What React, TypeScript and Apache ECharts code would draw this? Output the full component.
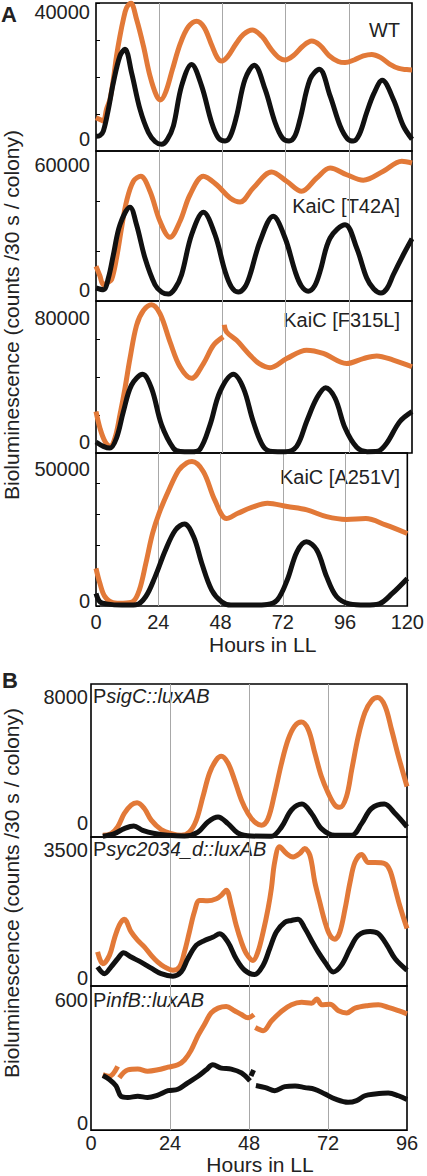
import React, { useEffect, useRef } from "react";
import * as echarts from "echarts";

// ---------- data (hours in LL, counts /30 s / colony) ----------
const hoursTicksA = [0, 24, 48, 72, 96, 120];
const hoursTicksB = [0, 24, 48, 72, 96];

const wtOrange = [[0,9000],[1.5,8500],[2.8,8100],[4,11300],[5.3,14000],[6.6,19400],[7.8,25700],[9.1,31100],[10.4,35600],[11.6,38700],[13.2,40000],[15.4,35600],[18,28400],[20.5,20300],[23,14900],[24.5,13800],[26.5,16000],[29,22000],[32,29000],[35,33500],[38.2,35100],[41,33500],[44,28500],[46,25300],[47.7,24300],[50,25500],[53,28800],[56,31500],[59.4,32700],[63,31000],[66.5,27500],[69.5,25200],[71.8,24600],[75,25800],[78.5,28300],[81.9,29700],[85,28600],[88.5,25800],[92,24200],[94.6,23900],[98,24600],[101.5,25700],[104.7,26100],[108,25300],[111.5,23500],[115,22300],[118,22000],[120,21900]];
const wtBlack = [[0,4000],[1.5,4200],[2.8,5400],[4.7,11300],[6.6,18500],[9.1,25700],[11,27500],[13.5,21200],[16.7,11300],[19.9,5000],[22.5,2500],[24.9,1800],[27,3000],[29.4,6800],[32.5,17600],[36.3,23400],[40.1,17600],[43.9,7700],[46.5,3500],[49,2700],[51,4000],[53.4,9500],[56.6,19400],[60.1,23200],[64.2,16700],[68,7700],[70.8,3500],[73.3,2700],[75.5,4000],[77.5,8600],[81.3,19400],[84.8,22100],[88.9,14900],[92.7,6800],[95.5,3300],[97.7,2700],[100,4500],[102.8,10400],[105.5,15500],[108.7,19100],[112.9,14000],[116.7,6800],[120,3200]];

const t42aOrange = [[0,13900],[1.5,10000],[2.8,6500],[4.5,7500],[5.9,8500],[7.8,17200],[9.7,29200],[11.6,39900],[14.2,47900],[17,49900],[20.5,43900],[24.3,31900],[28.1,25500],[31.9,31900],[35.7,42500],[40.8,49900],[45.8,46500],[50.9,41200],[54.7,39600],[59.7,45200],[66.7,51600],[72.4,47900],[78.1,43900],[83.8,49200],[88.9,53200],[95.2,50500],[101.5,48300],[109.1,51900],[116.1,55900],[120,55200]];
const t42aBlack = [[0,5200],[2.8,4500],[4.7,9200],[6.6,18500],[9.1,30500],[12.9,37500],[15.4,30500],[18.6,17200],[22.4,6500],[25,3500],[27.5,2800],[30,5000],[32.5,10500],[36.3,26500],[40.8,35500],[45.2,26500],[49,11900],[51.5,5500],[54,3600],[56.5,5500],[58.5,10500],[62.3,23900],[67.3,33900],[71.8,25200],[75.6,11900],[78,6000],[80.6,3900],[83,6000],[85.1,11900],[88.9,25200],[94.6,30500],[99,21200],[102.8,9200],[105.5,4800],[108.2,3200],[110.5,5000],[112.9,10500],[116.7,18500],[120,24900]];

const f315lOrange = [[0,21800],[1.5,13100],[3.4,6100],[5.3,3500],[7.2,7900],[9.1,20100],[11,34000],[12.9,49700],[15.4,67200],[18,75000],[21.1,78000],[24.3,73300],[28.1,58500],[31.9,45400],[36.3,39300],[40.8,47100],[44.6,56700],[48.3,61100],[48.5,"-"],[48.7,67500],[49.6,63700],[53.4,59300],[58.5,51500],[62,47000],[66.1,44900],[72.4,49700],[80,54100],[86.3,52400],[95.2,47100],[101.5,49700],[106.6,51100],[112.9,48900],[120,45400]];
const f315lBlack = [[0,5800],[2.8,3500],[5.3,2600],[7.8,7900],[10.4,21800],[13.5,35800],[17.7,41400],[21.1,34000],[24.9,14800],[29.4,2500],[32,800],[36,600],[39.5,2000],[43.3,14800],[47.1,32300],[52.2,41400],[56,34000],[59.7,16600],[63.5,3500],[67,800],[72,700],[76.2,3500],[80,16600],[83.8,28800],[87.2,34400],[90.8,28800],[94.6,13100],[99,3000],[103,700],[107,900],[110.3,5000],[115.4,16600],[120,21800]];

const a251vOrange = [[0,12300],[1.5,7400],[3.4,3100],[6.6,1100],[10.4,900],[14.2,1400],[16.7,5200],[19.2,13900],[21.8,23700],[24.3,30300],[28.1,37900],[31.9,44400],[35,46800],[37,47200],[41.4,43900],[45.8,34600],[50.3,28600],[54.7,30300],[60,32200],[66.1,33600],[73.7,32500],[81.3,31400],[88.9,29200],[96.5,28300],[104,28600],[111.6,26500],[120,23700]];
const a251vBlack = [[0,4100],[1.5,1400],[4,700],[10,300],[15.4,400],[19.2,3100],[22.8,9600],[26.8,18300],[30.6,24800],[34.1,26800],[37.6,22700],[40.8,13900],[44.6,5200],[48.4,1400],[52,300],[60,300],[66,500],[69.9,2000],[73.7,8500],[77.5,17800],[81.1,21000],[85.1,18300],[88.9,9600],[92.7,3100],[97.7,700],[104,300],[109.1,700],[114.2,4100],[120,9000]];

const sigCOrange = [[3.6,90],[6.1,180],[8.1,530],[10.1,1230],[12.2,1670],[14,1790],[16.2,1490],[18.3,880],[21.3,390],[24.4,180],[27.4,90],[29.9,260],[32,880],[34,2110],[36,3340],[38.1,4040],[39.6,4220],[41.6,3870],[43.6,2990],[45.7,1930],[47.7,1230],[49.7,790],[51.8,620],[53.8,970],[55.8,2280],[57.9,3870],[59.9,5100],[61.9,5800],[63.9,6010],[66,5620],[68,4390],[70,3160],[72.1,2280],[74.1,1670],[75.6,1550],[77.6,2110],[79.2,3510],[81.2,5270],[83.2,6500],[85.2,7120],[87.1,7290],[89.3,6850],[91.3,5620],[93.4,4220],[96,2640]];
const sigCBlack = [[3.6,40],[7.1,180],[10.1,440],[13,580],[15.7,350],[19.3,180],[23.3,90],[28.4,50],[32.5,260],[35.5,790],[38.6,1050],[41.6,700],[44.6,210],[48.7,50],[54.8,40],[57.9,530],[60.9,1410],[64.1,1720],[67,1230],[70,440],[74.1,90],[79.2,90],[82.2,700],[85.2,1490],[89.1,1720],[92.4,1230],[96,530]];

const syc2034Orange = [[2,800],[3.6,520],[5.6,720],[7.1,1110],[8.6,1430],[10.1,1570],[12.2,1270],[14.2,1070],[16.2,920],[18.3,720],[20.3,560],[22.3,450],[24.9,370],[26.9,450],[28.4,800],[29.9,1270],[31.4,1740],[33,2010],[35.5,2000],[38.1,2050],[39.6,2130],[41.1,2250],[42.6,1900],[44.1,1430],[45.7,1030],[47.2,760],[49.2,600],[50.7,800],[52.3,1270],[53.8,1820],[54.8,2290],[55.8,2910],[57.3,3270],[59.4,3110],[61.4,3030],[63.4,3110],[64.9,3230],[66.5,3070],[68,2440],[69.5,1970],[71.1,1500],[72.6,1190],[74.1,1100],[75.6,1270],[77.2,1820],[78.7,2440],[80.2,2910],[82.2,3090],[84.3,2900],[86.3,2900],[89.3,2870],[90.8,2720],[92.4,2290],[93.9,1860],[96,1350]];
const syc2034Black = [[2,450],[4.1,290],[6.1,450],[8.1,640],[9.9,780],[12.2,680],[15.2,560],[18.3,420],[21.3,290],[24.9,230],[27.4,330],[29.4,640],[32,960],[34.5,1070],[37.1,1150],[39.1,1230],[41.6,1030],[44.1,640],[46.7,370],[49.7,270],[52.3,490],[54.3,880],[56.3,1270],[58.9,1500],[60.9,1540],[62.9,1570],[65,1350],[67,1070],[69,800],[71.1,560],[73.6,330],[76.1,490],[78.7,880],[81.2,1190],[84.8,1280],[87.3,1230],[89.9,960],[92.4,640],[96,370]];

const infBOrange = [[3.6,231],[5.6,224],[8.1,265],[8.3,"-"],[8.6,218],[11.2,251],[14.2,254],[17.2,245],[20.3,251],[23.4,262],[26.4,272],[28.4,292],[30.4,332],[32.5,393],[34.5,441],[36.5,488],[38.6,508],[41.1,515],[43.6,497],[45.7,481],[47.7,468],[49.5,481],[49.7,"-"],[49.9,427],[52.3,414],[54.8,454],[57.9,495],[60.9,522],[64,532],[67,528],[68.6,546],[70.1,522],[72.6,524],[75.2,497],[77.7,488],[80.2,508],[84.3,519],[87.3,522],[90.3,511],[93.4,497],[96,484]];
const infBBlack = [[3.6,227],[5.6,211],[7.6,184],[9.1,141],[11.2,136],[14.2,141],[17.2,136],[20.3,146],[23.4,164],[26.4,170],[29.4,197],[32.5,224],[35,251],[37,272],[39.6,258],[42.6,254],[45.7,238],[48.3,205],[48.5,"-"],[48.6,225],[49.4,250],[49.6,"-"],[50.1,186],[53,177],[55.8,164],[58.9,181],[62,184],[65,177],[68,170],[71.1,150],[74.1,130],[78.1,116],[80.7,123],[83.2,143],[86.3,150],[90.3,154],[93.4,143],[96,127]];

const panelA = [
  { label: "WT", max: 40000, step: 10000, orange: wtOrange, black: wtBlack },
  { label: "KaiC [T42A]", max: 60000, step: 20000, orange: t42aOrange, black: t42aBlack },
  { label: "KaiC [F315L]", max: 80000, step: 20000, orange: f315lOrange, black: f315lBlack },
  { label: "KaiC [A251V]", max: 50000, step: 10000, orange: a251vOrange, black: a251vBlack },
];
const panelB = [
  { prefix: "P", gene: "sigC::luxAB", max: 8000, orange: sigCOrange, black: sigCBlack },
  { prefix: "P", gene: "syc2034_d::luxAB", max: 3500, orange: syc2034Orange, black: syc2034Black },
  { prefix: "P", gene: "infB::luxAB", max: 600, orange: infBOrange, black: infBBlack },
];

// ---------- layout ----------
const FONT = "'Liberation Sans', Arial, Helvetica, sans-serif";
const ORANGE = "#e27938";
const BLACK = "#111111";
const TXT = "#222222";
const layoutA = [
  { top: 3, height: 148, shiftMax: 9, shiftMin: -12, labelY: 30 },
  { top: 151, height: 150, shiftMax: 14, shiftMin: -11, labelY: 206 },
  { top: 301, height: 152, shiftMax: 17, shiftMin: -11, labelY: 320 },
  { top: 453, height: 153, shiftMax: 16, shiftMin: -5, labelY: 477 },
];
const layoutB = [
  { top: 684, height: 153, shiftMax: 13, shiftMin: -14, labelY: 696 },
  { top: 837, height: 149, shiftMax: 13, shiftMin: -8, labelY: 849 },
  { top: 986, height: 148, shiftMax: 14, shiftMin: -7, labelY: 1000 },
];

function buildOption() {
  const grid: any[] = [];
  const xAxis: any[] = [];
  const yAxis: any[] = [];
  const series: any[] = [];
  const graphic: any[] = [];

  const addPlot = (
    idx: number, lay: any, left: number, width: number, xMax: number, ticks: number[],
    yMax: number, yStep: number, showYTicks: boolean, labelMargin: number,
    isBottom: boolean, xLabelMargin: number, nameGap: number, orange: any[], black: any[]
  ) => {
    grid.push({
      left, top: lay.top, width, height: lay.height, show: true,
      borderColor: "#000", borderWidth: 1.6, backgroundColor: "transparent",
    });
    xAxis.push({
      gridIndex: idx, type: "value", min: ticks[0], max: xMax, interval: 24,
      axisLine: { show: false }, axisTick: { show: false },
      axisLabel: { show: isBottom, fontSize: 20, color: TXT, fontFamily: FONT, margin: xLabelMargin },
      splitLine: { show: true, showMinLine: false, showMaxLine: false, lineStyle: { color: "#a8a8a8", width: 1 } },
      name: isBottom ? "Hours in LL" : "",
      nameLocation: "middle", nameGap,
      nameTextStyle: { fontSize: 21, color: TXT, fontFamily: FONT, padding: [0, 0, 0, 22] },
    });
    const up = lay.shiftMax * 2;
    const dn = -lay.shiftMin * 2;
    yAxis.push({
      gridIndex: idx, type: "value", min: 0, max: yMax, interval: yStep,
      axisLine: { show: false }, splitLine: { show: false },
      axisTick: { show: showYTicks, inside: true, length: 4, lineStyle: { color: "#000", width: 1 } },
      axisLabel: {
        showMinLabel: true, showMaxLabel: true, margin: labelMargin,
        fontSize: 20, color: TXT, fontFamily: FONT,
        formatter: (v: number) => (v === yMax ? `{mx|${yMax}}` : v === 0 ? "{mn|0}" : ""),
        rich: {
          mx: { fontSize: 20, color: TXT, fontFamily: FONT, padding: [up, 0, 0, 0] },
          mn: { fontSize: 20, color: TXT, fontFamily: FONT, padding: [0, 0, dn, 0] },
        },
      },
    });
    series.push({
      type: "line", xAxisIndex: idx, yAxisIndex: idx, data: orange, showSymbol: false,
      smooth: 0.35, connectNulls: false,
      lineStyle: { color: ORANGE, width: 5 }, itemStyle: { color: ORANGE }, z: 3,
    });
    series.push({
      type: "line", xAxisIndex: idx, yAxisIndex: idx, data: black, showSymbol: false,
      smooth: 0.35, connectNulls: false,
      lineStyle: { color: BLACK, width: 5 }, itemStyle: { color: BLACK }, z: 4,
    });
  };

  panelA.forEach((p, i) => {
    const lay = layoutA[i];
    addPlot(i, lay, 96, 316, 120, hoursTicksA, p.max, p.step, true, 6, i === 3, 6, 28, p.orange, p.black);
    graphic.push({
      type: "text", x: 400, y: lay.labelY,
      style: { text: p.label, font: `20px ${FONT}`, fill: TXT, align: "right", verticalAlign: "middle" },
    });
  });
  panelB.forEach((p, i) => {
    const lay = layoutB[i];
    addPlot(i + 4, lay, 91, 316, 96, hoursTicksB, p.max, p.max, false, 3, i === 2, 3, 22, p.orange, p.black);
    graphic.push({
      type: "text", x: 93, y: lay.labelY,
      style: {
        text: `{n|${p.prefix}}{i|${p.gene}}`, align: "left", verticalAlign: "middle",
        rich: {
          n: { fontSize: 20, fontFamily: FONT, fill: TXT },
          i: { fontSize: 20, fontFamily: FONT, fontStyle: "italic", fill: TXT },
        },
      },
    });
  });

  const yTitle = "Bioluminescence (counts /30 s / colony)";
  graphic.push(
    { type: "text", x: 11, y: 315, rotation: Math.PI / 2,
      style: { text: yTitle, font: `21px ${FONT}`, fill: TXT, align: "center", verticalAlign: "middle" } },
    { type: "text", x: 11, y: 893, rotation: Math.PI / 2,
      style: { text: yTitle, font: `21px ${FONT}`, fill: TXT, align: "center", verticalAlign: "middle" } },
    { type: "text", x: 1, y: 14,
      style: { text: "A", font: `bold 22px ${FONT}`, fill: TXT, align: "left", verticalAlign: "middle" } },
    { type: "text", x: 2, y: 680,
      style: { text: "B", font: `bold 22px ${FONT}`, fill: TXT, align: "left", verticalAlign: "middle" } },
  );

  return { animation: false, backgroundColor: "#ffffff", grid, xAxis, yAxis, series, graphic };
}

export default function App() {
  const ref = useRef<HTMLDivElement>(null);
  useEffect(() => {
    document.body.style.margin = "0";
    const chart = echarts.init(ref.current!, null, { renderer: "svg" });
    chart.setOption(buildOption() as any);
    return () => chart.dispose();
  }, []);
  return <div ref={ref} style={{ width: 427, height: 1176 }} />;
}
